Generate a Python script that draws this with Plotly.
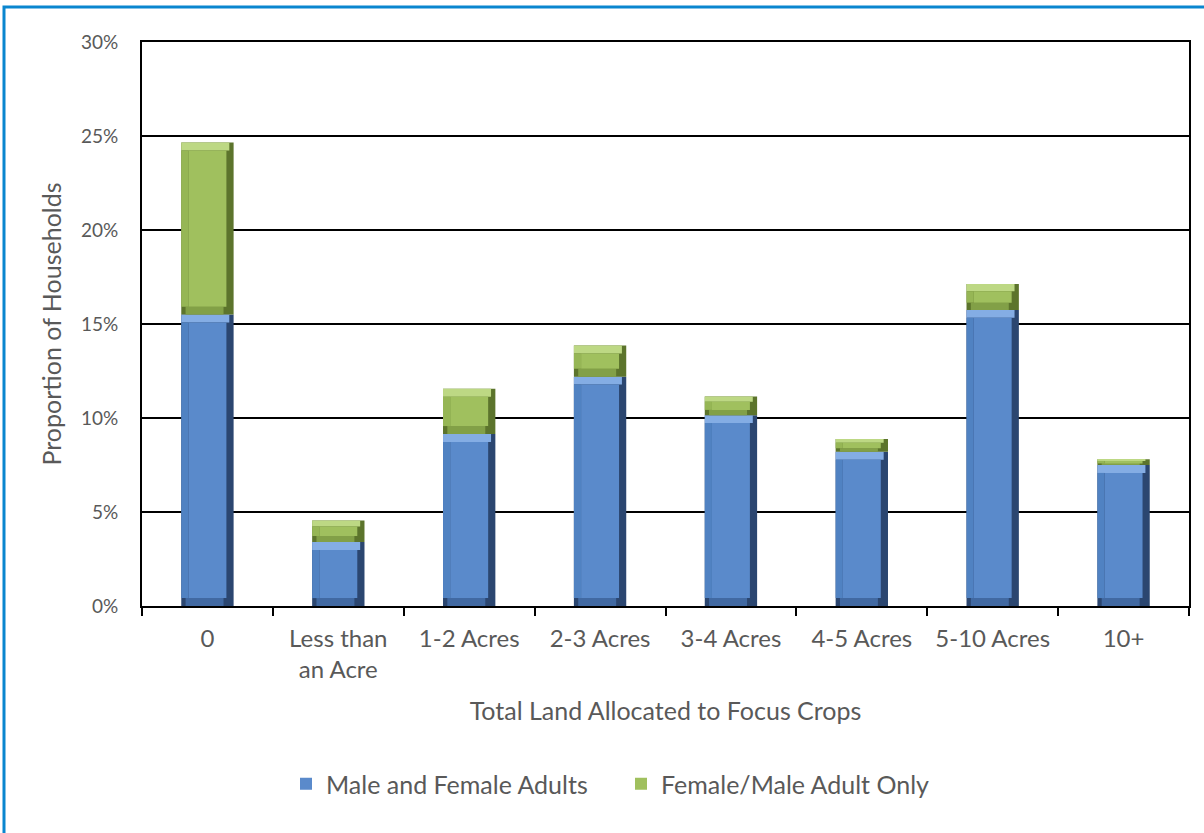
import plotly.graph_objects as go

categories = ["0", "Less than<br>an Acre", "1-2 Acres", "2-3 Acres", "3-4 Acres",
              "4-5 Acres", "5-10 Acres", "10+"]
male_and_female = [15.5, 3.4, 9.15, 12.2, 10.15, 8.2, 15.75, 7.5]
single_adult = [9.15, 1.15, 2.4, 1.65, 1.0, 0.68, 1.38, 0.3]

W, H = 1204, 833
ML, MR, MT, MB = 142, 15, 42, 227
PW, PH = W - ML - MR, H - MT - MB
font = "Lato"
grey = "#595959"

BAR_W = 0.4
EDGE = 0.055

blue = dict(center="#5A8ACB", top="#84ADE4", left="#5082C2", right="#2B4670", bottom="#4169A2")
green = dict(center="#A0C05E", top="#BDD884", left="#96B655", right="#5C742C", bottom="#82A047")

fig = go.Figure()


def add_series(name, values, bases, pal, rank):
    d = [min(0.42, v * 0.28) for v in values]
    # dark body (right edge)
    fig.add_bar(x=categories, y=values, base=bases, width=BAR_W, showlegend=False,
                marker=dict(color=pal["right"], line=dict(width=0)), hoverinfo="skip")
    # bottom bevel
    fig.add_bar(x=categories, y=d, base=bases, width=BAR_W - 2 * EDGE, offset=-BAR_W / 2 + EDGE * 0.6,
                showlegend=False, marker=dict(color=pal["bottom"], line=dict(width=0)), hoverinfo="skip")
    # top bevel
    fig.add_bar(x=categories, y=d, base=[b + v - e for b, v, e in zip(bases, values, d)],
                width=BAR_W - EDGE * 0.6, offset=-BAR_W / 2,
                showlegend=False, marker=dict(color=pal["top"], line=dict(width=0)), hoverinfo="skip")
    # left bevel
    fig.add_bar(x=categories, y=[v - 2 * e for v, e in zip(values, d)],
                base=[b + e for b, e in zip(bases, d)], width=EDGE, offset=-BAR_W / 2,
                showlegend=False, marker=dict(color=pal["left"], line=dict(width=0)), hoverinfo="skip")
    # flat face
    fig.add_bar(x=categories, y=[v - 2 * e for v, e in zip(values, d)],
                base=[b + e for b, e in zip(bases, d)], width=BAR_W - 2 * EDGE,
                offset=-BAR_W / 2 + EDGE, name=name, legendrank=rank,
                marker=dict(color=pal["center"], line=dict(width=0)))


add_series("Male and Female Adults", male_and_female, [0] * len(categories), blue, 1)
add_series("Female/Male Adult Only", single_adult, male_and_female, green, 2)

fig.add_shape(type="rect", xref="paper", yref="paper",
              x0=-(ML - 4) / PW, x1=(W + 20 - ML) / PW,
              y0=-(MB + 20) / PH, y1=1 + (MT - 7) / PH,
              line=dict(color="#0A86CF", width=3), fillcolor="rgba(0,0,0,0)", layer="above")

fig.update_layout(
    width=W, height=H, barmode="overlay",
    margin=dict(l=ML, r=MR, t=MT, b=MB),
    paper_bgcolor="white", plot_bgcolor="white",
    font=dict(family=font, size=24, color=grey),
    legend=dict(orientation="h", x=(286 - ML) / PW, xanchor="left", y=1 - (784 - MT) / PH,
                yanchor="middle", font=dict(size=25, color=grey), itemwidth=30,
                entrywidth=290, entrywidthmode="pixels"),
    xaxis=dict(showline=True, linecolor="black", linewidth=2, mirror=True,
               ticks="outside", tickson="boundaries", ticklen=8, tickcolor="black", tickwidth=2,
               tickfont=dict(size=24, color=grey), ticklabelstandoff=10,
               title=dict(text="Total Land Allocated to Focus Crops",
                          font=dict(size=25, color=grey), standoff=20)),
    yaxis=dict(range=[0, 30], dtick=5, ticksuffix="%", showline=True, linecolor="black",
               linewidth=2, mirror=True, showgrid=True, gridcolor="black", gridwidth=1.5,
               zeroline=False, ticklabelstandoff=18,
               tickfont=dict(size=19, color=grey),
               title=dict(text="Proportion of Households", font=dict(size=25, color=grey), standoff=12)),
    bargap=0.6,
)

fig.write_html("out.html", config={"displayModeBar": False},
               post_script="document.body.style.margin='0';")
